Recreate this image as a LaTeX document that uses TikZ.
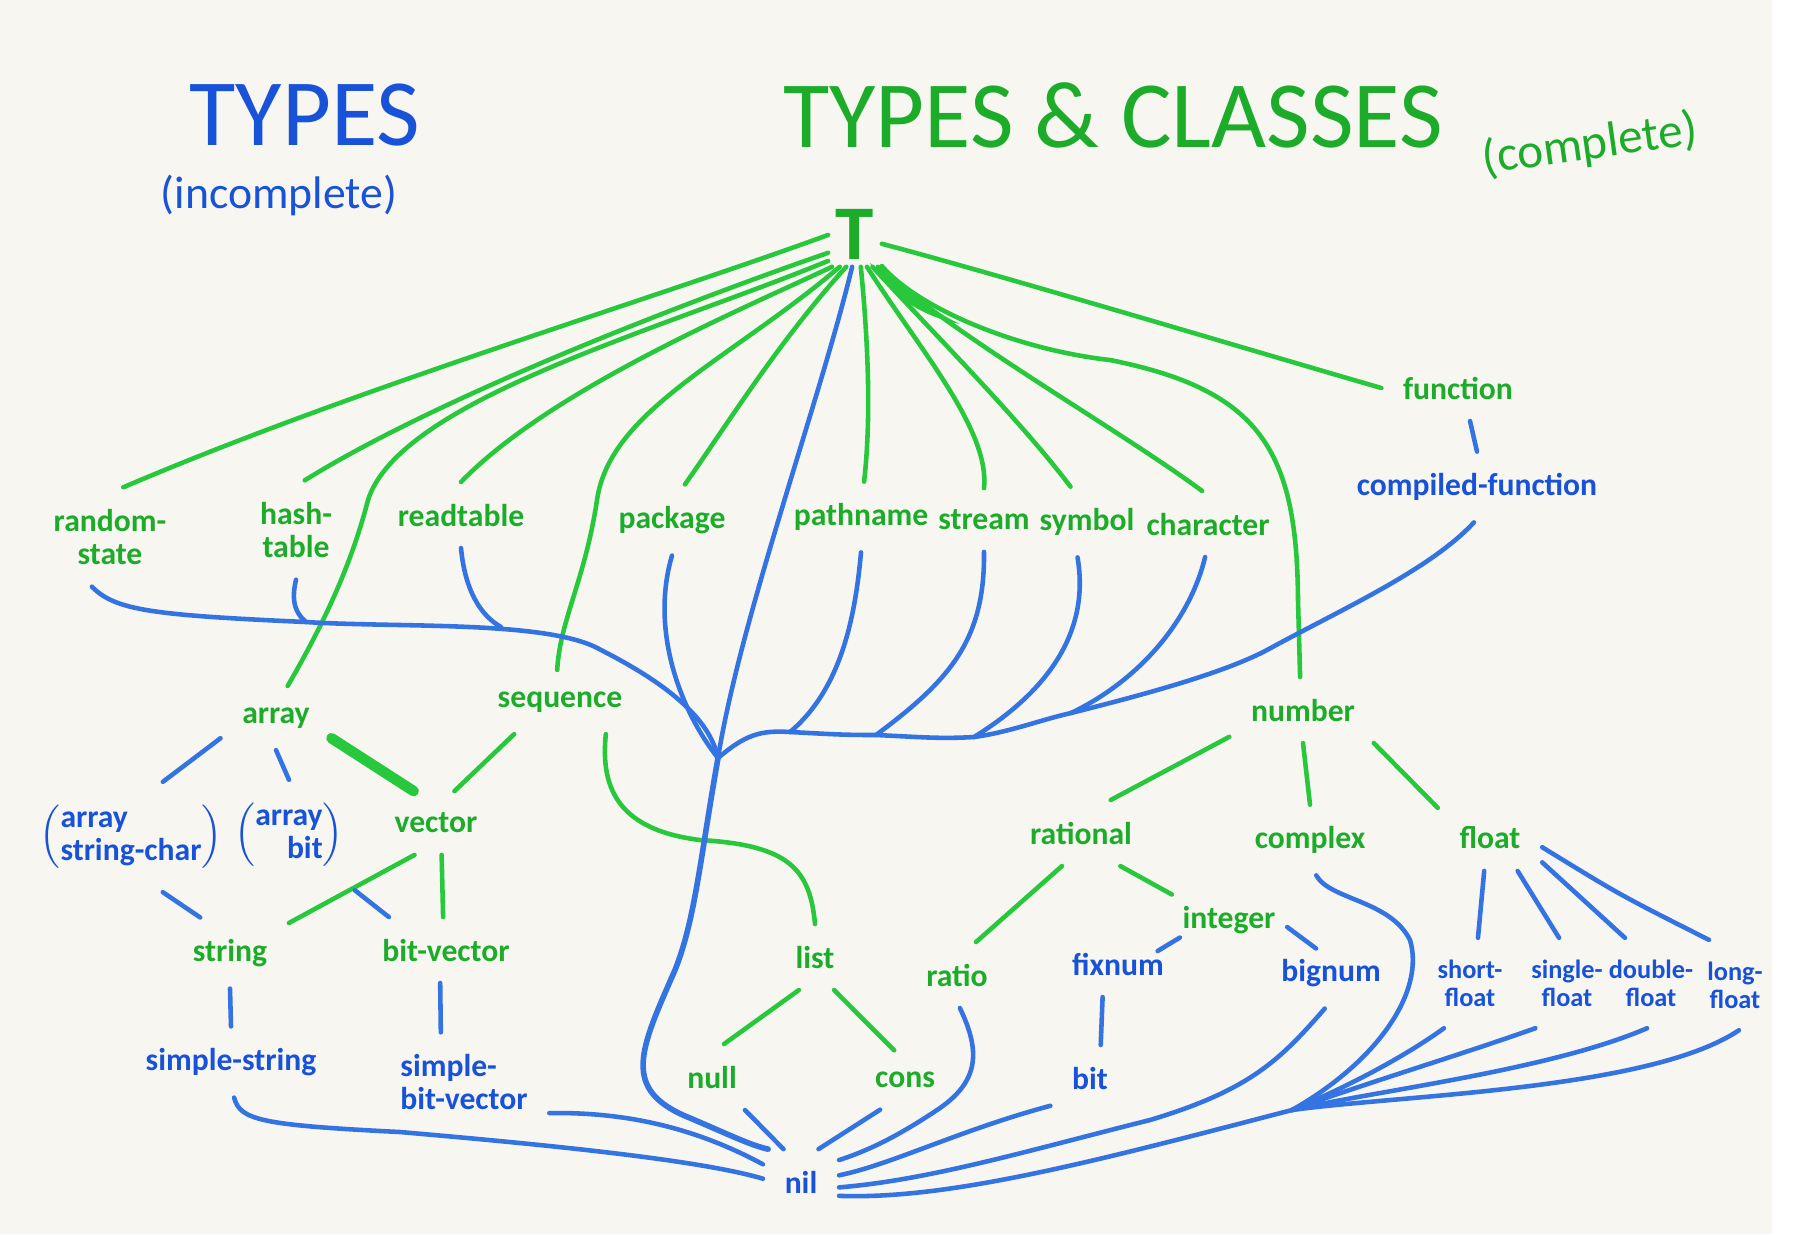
\documentclass[tikz,border=0pt]{standalone}
\usepackage{fontspec}
\setmainfont{Carlito}
\definecolor{paper}{RGB}{247,246,241}
\definecolor{mgreen}{RGB}{40,200,60}
\definecolor{tgreen}{RGB}{28,172,42}
\definecolor{mblue}{RGB}{52,116,226}
\definecolor{tblue}{RGB}{24,82,216}
\begin{document}
\begin{tikzpicture}[
  gtype/.style={text=tgreen,font=\fontsize{9}{9.5}\selectfont\bfseries,inner sep=6pt,align=center},
  btype/.style={gtype,text=tblue},
  ftype/.style={btype,font=\fontsize{7.5}{8}\selectfont\bfseries},
  gline/.style={draw=mgreen,line width=1.3pt,line cap=round},
  bline/.style={draw=mblue,line width=1.3pt,line cap=round}]
  \fill[paper] (0,0) rectangle (17.72,-12.34);
  \fill[white] (17.72,0) rectangle (18.04,-12.34);
  \useasboundingbox (0,0) rectangle (18.04,-12.34);
  % titles
  \node[text=tblue,font=\fontsize{27}{27}\selectfont] (typesL) at (3.05,-1.15) {TYPES};
  \node[text=tblue,font=\fontsize{13}{13}\selectfont] (incompl) at (2.79,-1.95) {(incomplete)};
  \node[text=tgreen,font=\fontsize{27}{27}\selectfont] (typesR) at (11.13,-1.15) {TYPES \& CLASSES};
  \node[text=tgreen,font=\fontsize{14}{14}\selectfont,rotate=8] (compl) at (15.9,-1.45) {(complete)};
  \node[text=tgreen,font=\fontsize{22}{22}\selectfont\bfseries,inner sep=2pt] (T) at (8.55,-2.34) {T};
  % first row
  \node[gtype] (rnd) at (1.10,-5.37) {random-\\state};
  \node[gtype] (hash) at (2.96,-5.30) {hash-\\table};
  \node[gtype] (readt) at (4.61,-5.15) {readtable};
  \node[gtype] (pkg) at (6.72,-5.20) {package};
  \node[gtype] (pathn) at (8.61,-5.17) {pathname};
  \node[gtype] (strm) at (9.84,-5.20) {stream};
  \node[gtype] (sym) at (10.87,-5.22) {symbol};
  \node[gtype] (chr) at (12.08,-5.24) {character};
  \node[gtype] (func) at (14.58,-3.88) {function};
  \node[btype] (cfun) at (14.77,-4.87) {compiled-function};
  % arrays and sequences
  \node[gtype] (arr) at (2.76,-7.18) {array};
  \node[gtype] (seq) at (5.60,-7.02) {sequence};
  \node[btype] (asc) at (1.31,-8.37) {$\left(\begin{tabular}{@{}l@{}}array\\string-char\end{tabular}\right)$};
  \node[btype] (abit) at (2.89,-8.35) {$\left(\begin{tabular}{@{}r@{}}array\\bit\end{tabular}\right)$};
  \node[gtype] (vec) at (4.36,-8.23) {vector};
  \node[gtype] (str) at (2.30,-9.53) {string};
  \node[gtype] (bvec) at (4.46,-9.50) {bit-vector};
  \node[btype] (sstr) at (2.31,-10.62) {simple-string};
  \node[btype,align=left] (sbvec) at (4.64,-10.82) {simple-\\bit-vector};
  \node[gtype] (lst) at (8.15,-9.57) {list};
  \node[gtype] (nul) at (7.12,-10.77) {null};
  \node[gtype] (cns) at (9.05,-10.80) {cons};
  % numbers
  \node[gtype] (num) at (13.03,-7.10) {number};
  \node[gtype] (rat) at (10.81,-8.33) {rational};
  \node[gtype] (cpx) at (13.10,-8.40) {complex};
  \node[gtype] (flt) at (14.90,-8.38) {float};
  \node[gtype] (rto) at (9.57,-9.75) {ratio};
  \node[gtype] (intg) at (12.29,-9.20) {integer};
  \node[btype] (fix) at (11.18,-9.64) {fixnum};
  \node[btype] (bgn) at (13.31,-9.73) {bignum};
  \node[btype] (bitt) at (10.90,-10.78) {bit};
  \node[ftype] (sfl) at (14.70,-9.83) {short-\\float};
  \node[ftype] (sgl) at (15.67,-9.83) {single-\\float};
  \node[ftype] (dbl) at (16.51,-9.83) {double-\\float};
  \node[ftype] (lng) at (17.35,-9.85) {long-\\float};
  \node[btype] (nil) at (8.01,-11.82) {nil};
  % joints of the blue lines
  \coordinate (hj) at (3.06,-6.22);
  \coordinate (rj) at (5.01,-6.27);
  \coordinate (jn) at (7.18,-7.58);
  \coordinate (pj) at (7.90,-7.32);
  \coordinate (sj) at (8.76,-7.35);
  \coordinate (yj) at (9.74,-7.37);
  \coordinate (cj) at (10.71,-7.13);
  \coordinate (fan) at (12.92,-11.10);
  % green: out of T
  \draw[gline] (T.182) .. controls (6.5,-3.0) and (3.5,-3.9) .. (rnd.75);
  \draw[gline] (T.215) .. controls (7.2,-2.9) and (4.5,-3.9) .. (hash.80);
  \draw[gline] (T.225) .. controls (6.6,-3.3) and (4.0,-4.0) .. (3.68,-5.0) .. controls (3.5,-5.7) and (3.2,-6.3) .. (arr.70);
  \draw[gline] (T.235) .. controls (7.4,-3.1) and (5.5,-3.9) .. (readt.north);
  \draw[gline] (T.245) .. controls (7.3,-3.6) and (6.1,-4.1) .. (5.97,-5.0) .. controls (5.85,-5.8) and (5.6,-6.2) .. (seq.95);
  \draw[gline] (T.255) .. controls (7.8,-3.4) and (7.3,-4.2) .. (pkg.70);
  \draw[gline] (T.280) .. controls (8.7,-3.6) and (8.7,-4.3) .. (pathn.85);
  \draw[gline] (T.290) .. controls (9.2,-3.5) and (9.9,-4.3) .. (strm.north);
  \draw[gline] (T.298) .. controls (9.4,-3.4) and (10.2,-4.2) .. (sym.115);
  \draw[gline] (T.305) .. controls (9.6,-3.4) and (11.2,-4.3) .. (chr.100);
  \draw[gline] (T.310) .. controls (9.2,-3.1) and (10.2,-3.5) .. (11.1,-3.6) .. controls (12.6,-3.9) and (12.97,-4.5) .. (12.98,-6.0) -- (num.95);
  \fill[mgreen] (8.70,-2.63) .. controls (9.0,-2.85) and (9.3,-3.1) .. (9.60,-3.24) .. controls (9.2,-3.16) and (8.9,-2.95) .. (8.70,-2.63);
  \draw[gline] (T.340) .. controls (10.0,-2.75) and (12.5,-3.5) .. (func.west);
  % green: lower levels
  \draw[gline,line width=3pt] (arr.-20) -- (vec.125);
  \draw[gline] (seq.215) -- (vec.60);
  \draw[gline] (seq.-35) .. controls (6.0,-7.9) and (6.2,-8.3) .. (7.0,-8.4) .. controls (7.9,-8.45) and (8.1,-8.7) .. (lst.north);
  \draw[gline] (vec.-80) -- (bvec.95);
  \draw[gline] (vec.236) -- (str.27);
  \draw[gline] (lst.244) -- (nul.70);
  \draw[gline] (lst.-60) -- (cns.110);
  \draw[gline] (num.200) -- (rat.48);
  \draw[gline] (num.south) -- (cpx.north);
  \draw[gline] (num.-25) -- (flt.150);
  \draw[gline] (rat.240) -- (rto.60);
  \draw[gline] (rat.-40) -- ([xshift=1.1mm,yshift=-1mm]intg.north west);
  % blue: upper net
  \draw[bline] (func.-70) -- (cfun.north);
  \draw[bline] (T.265) .. controls (8.2,-4.0) and (7.4,-6.2) .. (jn);
  \draw[bline] (rnd.250) .. controls (1.15,-6.1) and (1.5,-6.15) .. (hj) .. controls (4.0,-6.28) and (5.5,-6.2) .. (6.01,-6.5) .. controls (6.7,-6.85) and (7.1,-7.2) .. (jn);
  \draw[bline] (hash.south) .. controls (2.9,-6.05) and (2.98,-6.15) .. (hj);
  \draw[bline] (readt.south) .. controls (4.65,-5.9) and (4.8,-6.15) .. (rj);
  \draw[bline] (pkg.south) .. controls (6.5,-6.3) and (6.8,-7.1) .. (jn);
  \draw[bline] (jn) .. controls (7.45,-7.35) and (7.6,-7.3) .. (pj) .. controls (8.3,-7.34) and (8.4,-7.35) .. (sj) .. controls (9.2,-7.37) and (9.4,-7.39) .. (yj) .. controls (10.1,-7.32) and (10.4,-7.2) .. (cj) .. controls (11.3,-6.98) and (12.2,-6.75) .. (12.67,-6.5) .. controls (13.4,-6.1) and (14.3,-5.7) .. (cfun.265);
  \draw[bline] (pathn.south) .. controls (8.55,-6.2) and (8.4,-6.9) .. (pj);
  \draw[bline] (strm.south) .. controls (9.85,-6.4) and (9.5,-6.8) .. (sj);
  \draw[bline] (sym.255) .. controls (10.9,-6.3) and (10.5,-6.9) .. (yj);
  \draw[bline] (chr.265) .. controls (11.9,-6.2) and (11.4,-6.8) .. (cj);
  \draw[bline,line width=1.6pt] (jn) .. controls (7.0,-8.6) and (6.95,-9.2) .. (6.75,-9.7) .. controls (6.4,-10.5) and (6.2,-10.9) .. (6.9,-11.18) .. controls (7.3,-11.35) and (7.5,-11.45) .. (nil.135);
  % blue: arrays
  \draw[bline] (arr.200) -- (asc.60);
  \draw[bline] (arr.south) -- (abit.north);
  \draw[bline] (asc.-60) -- (str.130);
  \draw[bline] (abit.-40) -- (bvec.150);
  \draw[bline] (str.south) -- (sstr.north);
  \draw[bline] (bvec.-100) -- (sbvec.115);
  \draw[bline] (sstr.-85) .. controls (2.4,-11.2) and (2.6,-11.25) .. (4.0,-11.32) .. controls (5.5,-11.45) and (7.0,-11.6) .. (nil.175);
  \draw[bline] (sbvec.-20) .. controls (6.2,-11.12) and (6.9,-11.25) .. (nil.155);
  \draw[bline] (nul.-45) -- (nil.118);
  \draw[bline] (cns.230) -- (nil.62);
  % blue: numbers
  \draw[bline] (rto.-85) .. controls (9.8,-10.5) and (9.8,-10.8) .. (9.4,-11.08) .. controls (9.0,-11.35) and (8.7,-11.5) .. (nil.30);
  \draw[bline] ([xshift=1.9mm,yshift=1.8mm]intg.south west) -- ([xshift=-2.8mm,yshift=-2mm]fix.north east);
  \draw[bline] ([xshift=-1mm,yshift=-0.7mm]intg.east) -- ([xshift=-1.5mm,yshift=-1.1mm]bgn.north);
  \draw[bline] (fix.245) -- (bitt.72);
  \draw[bline] (bitt.215) .. controls (9.6,-11.3) and (8.9,-11.65) .. (nil.10);
  \draw[bline] (bgn.-100) .. controls (12.8,-10.6) and (12.5,-10.9) .. (11.5,-11.2) .. controls (10.3,-11.5) and (9.3,-11.8) .. (nil.-8);
  \draw[bline] (flt.-100) -- (sfl.80);
  \draw[bline] (flt.-50) -- (sgl.100);
  \draw[bline] (flt.-25) -- (dbl.120);
  \draw[bline] (flt.-10) .. controls (16.2,-8.95) .. (lng.120);
  \draw[bline] (cpx.-80) .. controls (13.3,-9.0) and (13.9,-9.0) .. (14.1,-9.4) .. controls (14.25,-9.9) and (13.8,-10.6) .. (fan);
  \draw[bline] (sfl.240) .. controls (14.0,-10.6) and (13.4,-10.9) .. (fan);
  \draw[bline] (sgl.235) .. controls (14.6,-10.55) and (13.6,-10.85) .. (fan);
  \draw[bline] (dbl.-95) .. controls (15.5,-10.7) and (13.8,-10.9) .. (fan);
  \draw[bline] (lng.-85) .. controls (16.5,-10.9) and (14.0,-10.95) .. (fan);
  \draw[bline] (fan) .. controls (11.0,-11.6) and (9.5,-12.0) .. (nil.-20);
\end{tikzpicture}
\end{document}
